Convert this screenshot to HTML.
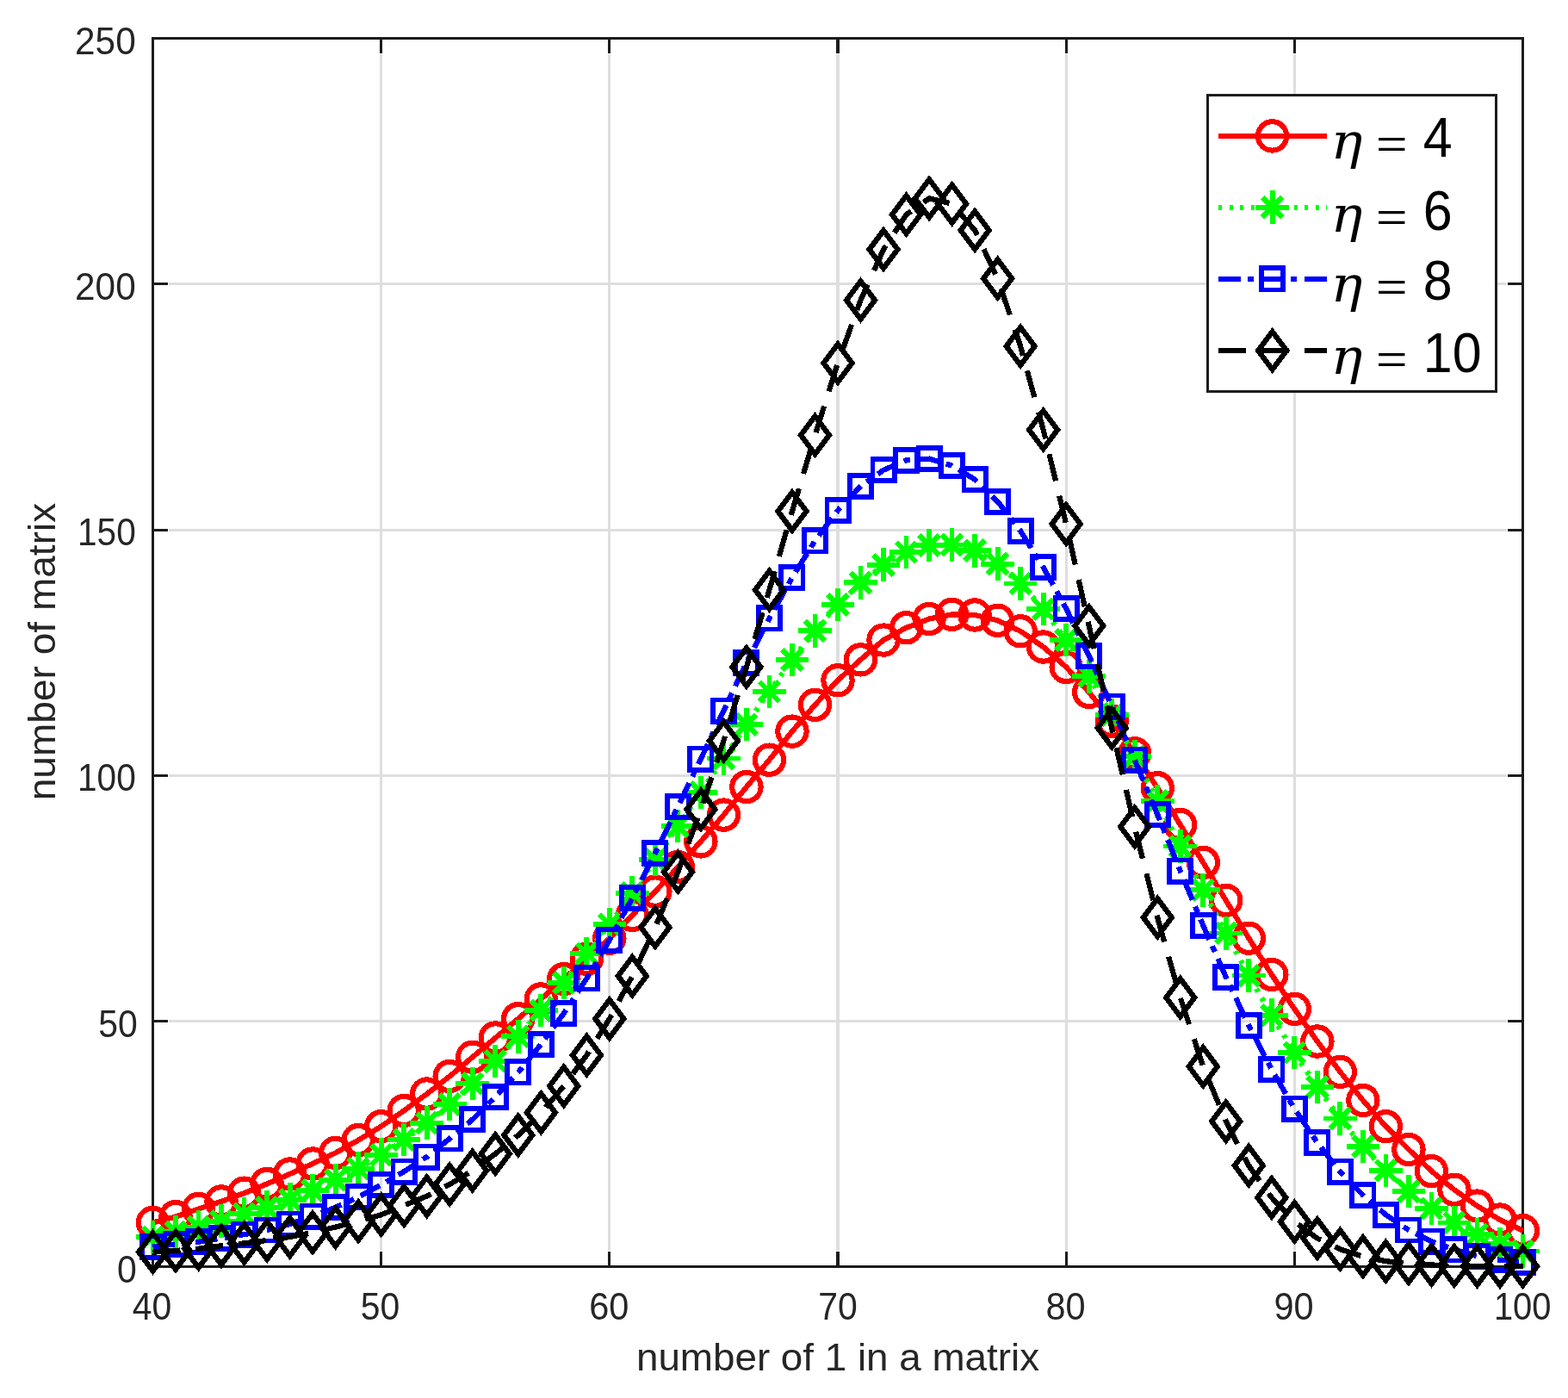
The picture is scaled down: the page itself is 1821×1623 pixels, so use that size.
<!DOCTYPE html>
<html lang="en"><head><meta charset="utf-8"><title>number of matrix vs number of 1 in a matrix</title>
<style>html,body{margin:0;padding:0;background:#fff}body{width:1821px;height:1623px;overflow:hidden}svg{display:block}text{font-family:"Liberation Sans",sans-serif;fill:#262626}.tk{font-size:44.6px}.al{font-size:45.2px}.lg{font-size:64.5px;fill:#000}.eq{font-size:62.5px;fill:#000}.eta{font-family:"DejaVu Serif","Liberation Serif",serif;font-style:italic;font-size:58px;fill:#000}</style></head><body>
<svg width="1821" height="1623" viewBox="0 0 1821 1623">
<rect width="1821" height="1623" fill="#fff"/>
<g fill="#dedede" shape-rendering="crispEdges">
<rect x="441" y="63" width="3" height="1389"/>
<rect x="706" y="63" width="3" height="1389"/>
<rect x="971" y="63" width="4" height="1389"/>
<rect x="1237" y="63" width="3" height="1389"/>
<rect x="1502" y="63" width="3" height="1389"/>
<rect x="196" y="1184" width="1554" height="3"/>
<rect x="196" y="899" width="1554" height="3"/>
<rect x="196" y="614" width="1554" height="3"/>
<rect x="196" y="328" width="1554" height="3"/>
</g>
<g fill="#1c1c1c" shape-rendering="crispEdges">
<rect x="176" y="43" width="1594" height="3"/>
<rect x="176" y="1469" width="1594" height="3"/>
<rect x="176" y="43" width="3" height="1429"/>
<rect x="1767" y="43" width="3" height="1429"/>
<rect x="441" y="46" width="3" height="16"/>
<rect x="441" y="1453" width="3" height="16"/>
<rect x="706" y="46" width="3" height="16"/>
<rect x="706" y="1453" width="3" height="16"/>
<rect x="971" y="46" width="4" height="16"/>
<rect x="971" y="1453" width="4" height="16"/>
<rect x="1237" y="46" width="3" height="16"/>
<rect x="1237" y="1453" width="3" height="16"/>
<rect x="1502" y="46" width="3" height="16"/>
<rect x="1502" y="1453" width="3" height="16"/>
<rect x="179" y="1184" width="16" height="3"/>
<rect x="1751" y="1184" width="16" height="3"/>
<rect x="179" y="899" width="16" height="3"/>
<rect x="1751" y="899" width="16" height="3"/>
<rect x="179" y="614" width="16" height="3"/>
<rect x="1751" y="614" width="16" height="3"/>
<rect x="179" y="328" width="16" height="3"/>
<rect x="1751" y="328" width="16" height="3"/>
</g>
<g class="tk">
<text transform="translate(176.5 1532) scale(0.918 1)" text-anchor="middle">40</text>
<text transform="translate(441.6 1532) scale(0.918 1)" text-anchor="middle">50</text>
<text transform="translate(707.3 1532) scale(0.93 1)" text-anchor="middle">60</text>
<text transform="translate(973 1532) scale(0.918 1)" text-anchor="middle">70</text>
<text transform="translate(1237.6 1532) scale(0.93 1)" text-anchor="middle">80</text>
<text transform="translate(1502.6 1532) scale(0.93 1)" text-anchor="middle">90</text>
<text transform="translate(1768.2 1532) scale(0.895 1)" text-anchor="middle">100</text>
<text transform="translate(158.7 1489) scale(0.918 1)" text-anchor="end">0</text>
<text transform="translate(159.7 1204) scale(0.918 1)" text-anchor="end">50</text>
<text transform="translate(157.7 918) scale(0.91 1)" text-anchor="end">100</text>
<text transform="translate(157.7 633) scale(0.91 1)" text-anchor="end">150</text>
<text transform="translate(157.7 348) scale(0.95 1)" text-anchor="end">200</text>
<text transform="translate(157.7 63) scale(0.95 1)" text-anchor="end">250</text>
</g>
<text class="al" transform="translate(973 1590.8) scale(1.013 1)" text-anchor="middle">number of 1 in a matrix</text>
<text class="al" transform="translate(64 756.5) rotate(-90) scale(1.019 1)" text-anchor="middle">number of matrix</text>
<g stroke="#ff0000" stroke-width="6.2" fill="none" stroke-linejoin="miter" shape-rendering="crispEdges">
<polyline points="177.5,1419.44 204.02,1412.6 230.53,1403.47 257.05,1394.92 283.57,1385.22 310.08,1374.39 336.6,1362.98 363.12,1351 389.63,1338.46 416.15,1323.63 442.67,1307.66 469.18,1289.41 495.7,1270.02 522.22,1249.49 548.73,1227.24 575.25,1205 601.77,1182.76 628.28,1159.95 654.8,1136.56 681.32,1113.18 707.83,1089.23 734.35,1062.42 760.87,1035.05 787.38,1006.53 813.9,976.87 840.42,946.08 866.93,913.57 893.45,882.2 919.97,849.12 946.48,818.32 973,789.81 999.52,765.85 1026.03,743.04 1052.55,728.78 1079.07,718.52 1105.58,713.39 1132.1,713.96 1158.62,720.23 1185.13,732.78 1211.65,751.03 1238.17,774.41 1264.68,803.5 1291.2,837.14 1317.72,874.79 1344.23,914.71 1370.75,957.48 1397.27,1001.4 1423.78,1045.31 1450.3,1089.23 1476.82,1131.43 1503.33,1171.35 1529.85,1208.99 1556.37,1244.35 1582.88,1277.43 1609.4,1307.66 1635.92,1334.46 1662.43,1359.56 1688.95,1381.23 1715.47,1400.05 1741.98,1416.02 1768.5,1428.57"/>
<circle cx="177.5" cy="1419.44" r="16.67" stroke-width="6.1"/>
<circle cx="204.02" cy="1412.6" r="16.67" stroke-width="6.1"/>
<circle cx="230.53" cy="1403.47" r="16.67" stroke-width="6.1"/>
<circle cx="257.05" cy="1394.92" r="16.67" stroke-width="6.1"/>
<circle cx="283.57" cy="1385.22" r="16.67" stroke-width="6.1"/>
<circle cx="310.08" cy="1374.39" r="16.67" stroke-width="6.1"/>
<circle cx="336.6" cy="1362.98" r="16.67" stroke-width="6.1"/>
<circle cx="363.12" cy="1351" r="16.67" stroke-width="6.1"/>
<circle cx="389.63" cy="1338.46" r="16.67" stroke-width="6.1"/>
<circle cx="416.15" cy="1323.63" r="16.67" stroke-width="6.1"/>
<circle cx="442.67" cy="1307.66" r="16.67" stroke-width="6.1"/>
<circle cx="469.18" cy="1289.41" r="16.67" stroke-width="6.1"/>
<circle cx="495.7" cy="1270.02" r="16.67" stroke-width="6.1"/>
<circle cx="522.22" cy="1249.49" r="16.67" stroke-width="6.1"/>
<circle cx="548.73" cy="1227.24" r="16.67" stroke-width="6.1"/>
<circle cx="575.25" cy="1205" r="16.67" stroke-width="6.1"/>
<circle cx="601.77" cy="1182.76" r="16.67" stroke-width="6.1"/>
<circle cx="628.28" cy="1159.95" r="16.67" stroke-width="6.1"/>
<circle cx="654.8" cy="1136.56" r="16.67" stroke-width="6.1"/>
<circle cx="681.32" cy="1113.18" r="16.67" stroke-width="6.1"/>
<circle cx="707.83" cy="1089.23" r="16.67" stroke-width="6.1"/>
<circle cx="734.35" cy="1062.42" r="16.67" stroke-width="6.1"/>
<circle cx="760.87" cy="1035.05" r="16.67" stroke-width="6.1"/>
<circle cx="787.38" cy="1006.53" r="16.67" stroke-width="6.1"/>
<circle cx="813.9" cy="976.87" r="16.67" stroke-width="6.1"/>
<circle cx="840.42" cy="946.08" r="16.67" stroke-width="6.1"/>
<circle cx="866.93" cy="913.57" r="16.67" stroke-width="6.1"/>
<circle cx="893.45" cy="882.2" r="16.67" stroke-width="6.1"/>
<circle cx="919.97" cy="849.12" r="16.67" stroke-width="6.1"/>
<circle cx="946.48" cy="818.32" r="16.67" stroke-width="6.1"/>
<circle cx="973" cy="789.81" r="16.67" stroke-width="6.1"/>
<circle cx="999.52" cy="765.85" r="16.67" stroke-width="6.1"/>
<circle cx="1026.03" cy="743.04" r="16.67" stroke-width="6.1"/>
<circle cx="1052.55" cy="728.78" r="16.67" stroke-width="6.1"/>
<circle cx="1079.07" cy="718.52" r="16.67" stroke-width="6.1"/>
<circle cx="1105.58" cy="713.39" r="16.67" stroke-width="6.1"/>
<circle cx="1132.1" cy="713.96" r="16.67" stroke-width="6.1"/>
<circle cx="1158.62" cy="720.23" r="16.67" stroke-width="6.1"/>
<circle cx="1185.13" cy="732.78" r="16.67" stroke-width="6.1"/>
<circle cx="1211.65" cy="751.03" r="16.67" stroke-width="6.1"/>
<circle cx="1238.17" cy="774.41" r="16.67" stroke-width="6.1"/>
<circle cx="1264.68" cy="803.5" r="16.67" stroke-width="6.1"/>
<circle cx="1291.2" cy="837.14" r="16.67" stroke-width="6.1"/>
<circle cx="1317.72" cy="874.79" r="16.67" stroke-width="6.1"/>
<circle cx="1344.23" cy="914.71" r="16.67" stroke-width="6.1"/>
<circle cx="1370.75" cy="957.48" r="16.67" stroke-width="6.1"/>
<circle cx="1397.27" cy="1001.4" r="16.67" stroke-width="6.1"/>
<circle cx="1423.78" cy="1045.31" r="16.67" stroke-width="6.1"/>
<circle cx="1450.3" cy="1089.23" r="16.67" stroke-width="6.1"/>
<circle cx="1476.82" cy="1131.43" r="16.67" stroke-width="6.1"/>
<circle cx="1503.33" cy="1171.35" r="16.67" stroke-width="6.1"/>
<circle cx="1529.85" cy="1208.99" r="16.67" stroke-width="6.1"/>
<circle cx="1556.37" cy="1244.35" r="16.67" stroke-width="6.1"/>
<circle cx="1582.88" cy="1277.43" r="16.67" stroke-width="6.1"/>
<circle cx="1609.4" cy="1307.66" r="16.67" stroke-width="6.1"/>
<circle cx="1635.92" cy="1334.46" r="16.67" stroke-width="6.1"/>
<circle cx="1662.43" cy="1359.56" r="16.67" stroke-width="6.1"/>
<circle cx="1688.95" cy="1381.23" r="16.67" stroke-width="6.1"/>
<circle cx="1715.47" cy="1400.05" r="16.67" stroke-width="6.1"/>
<circle cx="1741.98" cy="1416.02" r="16.67" stroke-width="6.1"/>
<circle cx="1768.5" cy="1428.57" r="16.67" stroke-width="6.1"/>
</g>
<g stroke="#00ff00" stroke-width="6.2" fill="none" stroke-linejoin="miter" shape-rendering="crispEdges">
<polyline points="177.5,1435.98 204.02,1430.28 230.53,1424.57 257.05,1417.73 283.57,1409.18 310.08,1401.76 336.6,1392.64 363.12,1381.8 389.63,1369.82 416.15,1356.71 442.67,1340.74 469.18,1323.06 495.7,1303.67 522.22,1281.99 548.73,1258.04 575.25,1231.81 601.77,1203.29 628.28,1173.06 654.8,1141.13 681.32,1106.91 707.83,1073.26 734.35,1036.76 760.87,997.98 787.38,959.19 813.9,919.84 840.42,880.49 866.93,841.14 893.45,802.93 919.97,765.85 946.48,732.21 973,701.98 999.52,676.31 1026.03,655.78 1052.55,640.95 1079.07,632.97 1105.58,632.4 1132.1,639.24 1158.62,654.64 1185.13,677.46 1211.65,707.11 1238.17,743.04 1264.68,785.25 1291.2,830.3 1317.72,878.21 1344.23,930.11 1370.75,982.58 1397.27,1033.33 1423.78,1083.52 1450.3,1132.57 1476.82,1178.77 1503.33,1222.11 1529.85,1262.03 1556.37,1298.53 1582.88,1331.04 1609.4,1358.99 1635.92,1382.94 1662.43,1402.9 1688.95,1419.44 1715.47,1433.13 1741.98,1443.97 1768.5,1452.52" stroke-dasharray="4.2 8.3"/>
<path stroke-width="5.8" d="M158.2 1435.98H196.8M177.5 1416.68V1455.28"/><path stroke-width="6.2" d="M165.9 1424.38L189.1 1447.58M165.9 1447.58L189.1 1424.38"/>
<path stroke-width="5.8" d="M184.72 1430.28H223.32M204.02 1410.98V1449.58"/><path stroke-width="6.2" d="M192.42 1418.68L215.62 1441.88M192.42 1441.88L215.62 1418.68"/>
<path stroke-width="5.8" d="M211.23 1424.57H249.83M230.53 1405.27V1443.87"/><path stroke-width="6.2" d="M218.93 1412.97L242.13 1436.17M218.93 1436.17L242.13 1412.97"/>
<path stroke-width="5.8" d="M237.75 1417.73H276.35M257.05 1398.43V1437.03"/><path stroke-width="6.2" d="M245.45 1406.13L268.65 1429.33M245.45 1429.33L268.65 1406.13"/>
<path stroke-width="5.8" d="M264.27 1409.18H302.87M283.57 1389.88V1428.48"/><path stroke-width="6.2" d="M271.97 1397.58L295.17 1420.78M271.97 1420.78L295.17 1397.58"/>
<path stroke-width="5.8" d="M290.78 1401.76H329.38M310.08 1382.46V1421.06"/><path stroke-width="6.2" d="M298.48 1390.16L321.68 1413.36M298.48 1413.36L321.68 1390.16"/>
<path stroke-width="5.8" d="M317.3 1392.64H355.9M336.6 1373.34V1411.94"/><path stroke-width="6.2" d="M325 1381.04L348.2 1404.24M325 1404.24L348.2 1381.04"/>
<path stroke-width="5.8" d="M343.82 1381.8H382.42M363.12 1362.5V1401.1"/><path stroke-width="6.2" d="M351.52 1370.2L374.72 1393.4M351.52 1393.4L374.72 1370.2"/>
<path stroke-width="5.8" d="M370.33 1369.82H408.93M389.63 1350.52V1389.12"/><path stroke-width="6.2" d="M378.03 1358.22L401.23 1381.42M378.03 1381.42L401.23 1358.22"/>
<path stroke-width="5.8" d="M396.85 1356.71H435.45M416.15 1337.41V1376.01"/><path stroke-width="6.2" d="M404.55 1345.11L427.75 1368.31M404.55 1368.31L427.75 1345.11"/>
<path stroke-width="5.8" d="M423.37 1340.74H461.97M442.67 1321.44V1360.04"/><path stroke-width="6.2" d="M431.07 1329.14L454.27 1352.34M431.07 1352.34L454.27 1329.14"/>
<path stroke-width="5.8" d="M449.88 1323.06H488.48M469.18 1303.76V1342.36"/><path stroke-width="6.2" d="M457.58 1311.46L480.78 1334.66M457.58 1334.66L480.78 1311.46"/>
<path stroke-width="5.8" d="M476.4 1303.67H515M495.7 1284.37V1322.97"/><path stroke-width="6.2" d="M484.1 1292.07L507.3 1315.27M484.1 1315.27L507.3 1292.07"/>
<path stroke-width="5.8" d="M502.92 1281.99H541.52M522.22 1262.69V1301.29"/><path stroke-width="6.2" d="M510.62 1270.39L533.82 1293.59M510.62 1293.59L533.82 1270.39"/>
<path stroke-width="5.8" d="M529.43 1258.04H568.03M548.73 1238.74V1277.34"/><path stroke-width="6.2" d="M537.13 1246.44L560.33 1269.64M537.13 1269.64L560.33 1246.44"/>
<path stroke-width="5.8" d="M555.95 1231.81H594.55M575.25 1212.51V1251.11"/><path stroke-width="6.2" d="M563.65 1220.21L586.85 1243.41M563.65 1243.41L586.85 1220.21"/>
<path stroke-width="5.8" d="M582.47 1203.29H621.07M601.77 1183.99V1222.59"/><path stroke-width="6.2" d="M590.17 1191.69L613.37 1214.89M590.17 1214.89L613.37 1191.69"/>
<path stroke-width="5.8" d="M608.98 1173.06H647.58M628.28 1153.76V1192.36"/><path stroke-width="6.2" d="M616.68 1161.46L639.88 1184.66M616.68 1184.66L639.88 1161.46"/>
<path stroke-width="5.8" d="M635.5 1141.13H674.1M654.8 1121.83V1160.43"/><path stroke-width="6.2" d="M643.2 1129.53L666.4 1152.73M643.2 1152.73L666.4 1129.53"/>
<path stroke-width="5.8" d="M662.02 1106.91H700.62M681.32 1087.61V1126.21"/><path stroke-width="6.2" d="M669.72 1095.31L692.92 1118.51M669.72 1118.51L692.92 1095.31"/>
<path stroke-width="5.8" d="M688.53 1073.26H727.13M707.83 1053.96V1092.56"/><path stroke-width="6.2" d="M696.23 1061.66L719.43 1084.86M696.23 1084.86L719.43 1061.66"/>
<path stroke-width="5.8" d="M715.05 1036.76H753.65M734.35 1017.46V1056.06"/><path stroke-width="6.2" d="M722.75 1025.16L745.95 1048.36M722.75 1048.36L745.95 1025.16"/>
<path stroke-width="5.8" d="M741.57 997.98H780.17M760.87 978.68V1017.28"/><path stroke-width="6.2" d="M749.27 986.38L772.47 1009.58M749.27 1009.58L772.47 986.38"/>
<path stroke-width="5.8" d="M768.08 959.19H806.68M787.38 939.89V978.49"/><path stroke-width="6.2" d="M775.78 947.59L798.98 970.79M775.78 970.79L798.98 947.59"/>
<path stroke-width="5.8" d="M794.6 919.84H833.2M813.9 900.54V939.14"/><path stroke-width="6.2" d="M802.3 908.24L825.5 931.44M802.3 931.44L825.5 908.24"/>
<path stroke-width="5.8" d="M821.12 880.49H859.72M840.42 861.19V899.79"/><path stroke-width="6.2" d="M828.82 868.89L852.02 892.09M828.82 892.09L852.02 868.89"/>
<path stroke-width="5.8" d="M847.63 841.14H886.23M866.93 821.84V860.44"/><path stroke-width="6.2" d="M855.33 829.54L878.53 852.74M855.33 852.74L878.53 829.54"/>
<path stroke-width="5.8" d="M874.15 802.93H912.75M893.45 783.63V822.23"/><path stroke-width="6.2" d="M881.85 791.33L905.05 814.53M881.85 814.53L905.05 791.33"/>
<path stroke-width="5.8" d="M900.67 765.85H939.27M919.97 746.55V785.15"/><path stroke-width="6.2" d="M908.37 754.25L931.57 777.45M908.37 777.45L931.57 754.25"/>
<path stroke-width="5.8" d="M927.18 732.21H965.78M946.48 712.91V751.51"/><path stroke-width="6.2" d="M934.88 720.61L958.08 743.81M934.88 743.81L958.08 720.61"/>
<path stroke-width="5.8" d="M953.7 701.98H992.3M973 682.68V721.28"/><path stroke-width="6.2" d="M961.4 690.38L984.6 713.58M961.4 713.58L984.6 690.38"/>
<path stroke-width="5.8" d="M980.22 676.31H1018.82M999.52 657.01V695.61"/><path stroke-width="6.2" d="M987.92 664.71L1011.12 687.91M987.92 687.91L1011.12 664.71"/>
<path stroke-width="5.8" d="M1006.73 655.78H1045.33M1026.03 636.48V675.08"/><path stroke-width="6.2" d="M1014.43 644.18L1037.63 667.38M1014.43 667.38L1037.63 644.18"/>
<path stroke-width="5.8" d="M1033.25 640.95H1071.85M1052.55 621.65V660.25"/><path stroke-width="6.2" d="M1040.95 629.35L1064.15 652.55M1040.95 652.55L1064.15 629.35"/>
<path stroke-width="5.8" d="M1059.77 632.97H1098.37M1079.07 613.67V652.27"/><path stroke-width="6.2" d="M1067.47 621.37L1090.67 644.57M1067.47 644.57L1090.67 621.37"/>
<path stroke-width="5.8" d="M1086.28 632.4H1124.88M1105.58 613.1V651.7"/><path stroke-width="6.2" d="M1093.98 620.8L1117.18 644M1093.98 644L1117.18 620.8"/>
<path stroke-width="5.8" d="M1112.8 639.24H1151.4M1132.1 619.94V658.54"/><path stroke-width="6.2" d="M1120.5 627.64L1143.7 650.84M1120.5 650.84L1143.7 627.64"/>
<path stroke-width="5.8" d="M1139.32 654.64H1177.92M1158.62 635.34V673.94"/><path stroke-width="6.2" d="M1147.02 643.04L1170.22 666.24M1147.02 666.24L1170.22 643.04"/>
<path stroke-width="5.8" d="M1165.83 677.46H1204.43M1185.13 658.16V696.76"/><path stroke-width="6.2" d="M1173.53 665.86L1196.73 689.06M1173.53 689.06L1196.73 665.86"/>
<path stroke-width="5.8" d="M1192.35 707.11H1230.95M1211.65 687.81V726.41"/><path stroke-width="6.2" d="M1200.05 695.51L1223.25 718.71M1200.05 718.71L1223.25 695.51"/>
<path stroke-width="5.8" d="M1218.87 743.04H1257.47M1238.17 723.74V762.34"/><path stroke-width="6.2" d="M1226.57 731.44L1249.77 754.64M1226.57 754.64L1249.77 731.44"/>
<path stroke-width="5.8" d="M1245.38 785.25H1283.98M1264.68 765.95V804.55"/><path stroke-width="6.2" d="M1253.08 773.65L1276.28 796.85M1253.08 796.85L1276.28 773.65"/>
<path stroke-width="5.8" d="M1271.9 830.3H1310.5M1291.2 811V849.6"/><path stroke-width="6.2" d="M1279.6 818.7L1302.8 841.9M1279.6 841.9L1302.8 818.7"/>
<path stroke-width="5.8" d="M1298.42 878.21H1337.02M1317.72 858.91V897.51"/><path stroke-width="6.2" d="M1306.12 866.61L1329.32 889.81M1306.12 889.81L1329.32 866.61"/>
<path stroke-width="5.8" d="M1324.93 930.11H1363.53M1344.23 910.81V949.41"/><path stroke-width="6.2" d="M1332.63 918.51L1355.83 941.71M1332.63 941.71L1355.83 918.51"/>
<path stroke-width="5.8" d="M1351.45 982.58H1390.05M1370.75 963.28V1001.88"/><path stroke-width="6.2" d="M1359.15 970.98L1382.35 994.18M1359.15 994.18L1382.35 970.98"/>
<path stroke-width="5.8" d="M1377.97 1033.33H1416.57M1397.27 1014.03V1052.63"/><path stroke-width="6.2" d="M1385.67 1021.73L1408.87 1044.93M1385.67 1044.93L1408.87 1021.73"/>
<path stroke-width="5.8" d="M1404.48 1083.52H1443.08M1423.78 1064.22V1102.82"/><path stroke-width="6.2" d="M1412.18 1071.92L1435.38 1095.12M1412.18 1095.12L1435.38 1071.92"/>
<path stroke-width="5.8" d="M1431 1132.57H1469.6M1450.3 1113.27V1151.87"/><path stroke-width="6.2" d="M1438.7 1120.97L1461.9 1144.17M1438.7 1144.17L1461.9 1120.97"/>
<path stroke-width="5.8" d="M1457.52 1178.77H1496.12M1476.82 1159.47V1198.07"/><path stroke-width="6.2" d="M1465.22 1167.17L1488.42 1190.37M1465.22 1190.37L1488.42 1167.17"/>
<path stroke-width="5.8" d="M1484.03 1222.11H1522.63M1503.33 1202.81V1241.41"/><path stroke-width="6.2" d="M1491.73 1210.51L1514.93 1233.71M1491.73 1233.71L1514.93 1210.51"/>
<path stroke-width="5.8" d="M1510.55 1262.03H1549.15M1529.85 1242.73V1281.33"/><path stroke-width="6.2" d="M1518.25 1250.43L1541.45 1273.63M1518.25 1273.63L1541.45 1250.43"/>
<path stroke-width="5.8" d="M1537.07 1298.53H1575.67M1556.37 1279.23V1317.83"/><path stroke-width="6.2" d="M1544.77 1286.93L1567.97 1310.13M1544.77 1310.13L1567.97 1286.93"/>
<path stroke-width="5.8" d="M1563.58 1331.04H1602.18M1582.88 1311.74V1350.34"/><path stroke-width="6.2" d="M1571.28 1319.44L1594.48 1342.64M1571.28 1342.64L1594.48 1319.44"/>
<path stroke-width="5.8" d="M1590.1 1358.99H1628.7M1609.4 1339.69V1378.29"/><path stroke-width="6.2" d="M1597.8 1347.39L1621 1370.59M1597.8 1370.59L1621 1347.39"/>
<path stroke-width="5.8" d="M1616.62 1382.94H1655.22M1635.92 1363.64V1402.24"/><path stroke-width="6.2" d="M1624.32 1371.34L1647.52 1394.54M1624.32 1394.54L1647.52 1371.34"/>
<path stroke-width="5.8" d="M1643.13 1402.9H1681.73M1662.43 1383.6V1422.2"/><path stroke-width="6.2" d="M1650.83 1391.3L1674.03 1414.5M1650.83 1414.5L1674.03 1391.3"/>
<path stroke-width="5.8" d="M1669.65 1419.44H1708.25M1688.95 1400.14V1438.74"/><path stroke-width="6.2" d="M1677.35 1407.84L1700.55 1431.04M1677.35 1431.04L1700.55 1407.84"/>
<path stroke-width="5.8" d="M1696.17 1433.13H1734.77M1715.47 1413.83V1452.43"/><path stroke-width="6.2" d="M1703.87 1421.53L1727.07 1444.73M1703.87 1444.73L1727.07 1421.53"/>
<path stroke-width="5.8" d="M1722.68 1443.97H1761.28M1741.98 1424.67V1463.27"/><path stroke-width="6.2" d="M1730.38 1432.37L1753.58 1455.57M1730.38 1455.57L1753.58 1432.37"/>
<path stroke-width="5.8" d="M1749.2 1452.52H1787.8M1768.5 1433.22V1471.82"/><path stroke-width="6.2" d="M1756.9 1440.92L1780.1 1464.12M1756.9 1464.12L1780.1 1440.92"/>
</g>
<g stroke="#0000ff" stroke-width="6.2" fill="none" stroke-linejoin="miter" shape-rendering="crispEdges">
<polyline points="177.5,1447.39 204.02,1444.54 230.53,1441.68 257.05,1437.69 283.57,1433.13 310.08,1428 336.6,1421.15 363.12,1412.03 389.63,1401.76 416.15,1389.78 442.67,1375.53 469.18,1360.13 495.7,1343.02 522.22,1321.92 548.73,1299.67 575.25,1273.44 601.77,1244.92 628.28,1212.42 654.8,1176.49 681.32,1135.99 707.83,1091.51 734.35,1042.46 760.87,990.56 787.38,936.38 813.9,881.06 840.42,825.17 866.93,769.28 893.45,717.95 919.97,670.61 946.48,627.84 973,592.48 999.52,564.53 1026.03,545.71 1052.55,534.3 1079.07,532.59 1105.58,540.58 1132.1,556.55 1158.62,582.21 1185.13,616.43 1211.65,658.63 1238.17,706.54 1264.68,761.29 1291.2,820.04 1317.72,882.2 1344.23,945.51 1370.75,1011.09 1397.27,1074.4 1423.78,1134.28 1450.3,1190.74 1476.82,1241.5 1503.33,1287.13 1529.85,1326.48 1556.37,1360.13 1582.88,1387.5 1609.4,1410.32 1635.92,1428 1662.43,1441.11 1688.95,1450.81 1715.47,1458.22 1741.98,1462.79 1768.5,1465.07" stroke-dasharray="25.5 8.3 7.5 8.7"/>
<rect x="164.9" y="1434.79" width="25.2" height="25.2" stroke-width="5.8"/>
<rect x="191.42" y="1431.94" width="25.2" height="25.2" stroke-width="5.8"/>
<rect x="217.93" y="1429.08" width="25.2" height="25.2" stroke-width="5.8"/>
<rect x="244.45" y="1425.09" width="25.2" height="25.2" stroke-width="5.8"/>
<rect x="270.97" y="1420.53" width="25.2" height="25.2" stroke-width="5.8"/>
<rect x="297.48" y="1415.4" width="25.2" height="25.2" stroke-width="5.8"/>
<rect x="324" y="1408.55" width="25.2" height="25.2" stroke-width="5.8"/>
<rect x="350.52" y="1399.43" width="25.2" height="25.2" stroke-width="5.8"/>
<rect x="377.03" y="1389.16" width="25.2" height="25.2" stroke-width="5.8"/>
<rect x="403.55" y="1377.18" width="25.2" height="25.2" stroke-width="5.8"/>
<rect x="430.07" y="1362.93" width="25.2" height="25.2" stroke-width="5.8"/>
<rect x="456.58" y="1347.53" width="25.2" height="25.2" stroke-width="5.8"/>
<rect x="483.1" y="1330.42" width="25.2" height="25.2" stroke-width="5.8"/>
<rect x="509.62" y="1309.32" width="25.2" height="25.2" stroke-width="5.8"/>
<rect x="536.13" y="1287.07" width="25.2" height="25.2" stroke-width="5.8"/>
<rect x="562.65" y="1260.84" width="25.2" height="25.2" stroke-width="5.8"/>
<rect x="589.17" y="1232.32" width="25.2" height="25.2" stroke-width="5.8"/>
<rect x="615.68" y="1199.82" width="25.2" height="25.2" stroke-width="5.8"/>
<rect x="642.2" y="1163.89" width="25.2" height="25.2" stroke-width="5.8"/>
<rect x="668.72" y="1123.39" width="25.2" height="25.2" stroke-width="5.8"/>
<rect x="695.23" y="1078.91" width="25.2" height="25.2" stroke-width="5.8"/>
<rect x="721.75" y="1029.86" width="25.2" height="25.2" stroke-width="5.8"/>
<rect x="748.27" y="977.96" width="25.2" height="25.2" stroke-width="5.8"/>
<rect x="774.78" y="923.78" width="25.2" height="25.2" stroke-width="5.8"/>
<rect x="801.3" y="868.46" width="25.2" height="25.2" stroke-width="5.8"/>
<rect x="827.82" y="812.57" width="25.2" height="25.2" stroke-width="5.8"/>
<rect x="854.33" y="756.68" width="25.2" height="25.2" stroke-width="5.8"/>
<rect x="880.85" y="705.35" width="25.2" height="25.2" stroke-width="5.8"/>
<rect x="907.37" y="658.01" width="25.2" height="25.2" stroke-width="5.8"/>
<rect x="933.88" y="615.24" width="25.2" height="25.2" stroke-width="5.8"/>
<rect x="960.4" y="579.88" width="25.2" height="25.2" stroke-width="5.8"/>
<rect x="986.92" y="551.93" width="25.2" height="25.2" stroke-width="5.8"/>
<rect x="1013.43" y="533.11" width="25.2" height="25.2" stroke-width="5.8"/>
<rect x="1039.95" y="521.7" width="25.2" height="25.2" stroke-width="5.8"/>
<rect x="1066.47" y="519.99" width="25.2" height="25.2" stroke-width="5.8"/>
<rect x="1092.98" y="527.98" width="25.2" height="25.2" stroke-width="5.8"/>
<rect x="1119.5" y="543.95" width="25.2" height="25.2" stroke-width="5.8"/>
<rect x="1146.02" y="569.61" width="25.2" height="25.2" stroke-width="5.8"/>
<rect x="1172.53" y="603.83" width="25.2" height="25.2" stroke-width="5.8"/>
<rect x="1199.05" y="646.03" width="25.2" height="25.2" stroke-width="5.8"/>
<rect x="1225.57" y="693.94" width="25.2" height="25.2" stroke-width="5.8"/>
<rect x="1252.08" y="748.69" width="25.2" height="25.2" stroke-width="5.8"/>
<rect x="1278.6" y="807.44" width="25.2" height="25.2" stroke-width="5.8"/>
<rect x="1305.12" y="869.6" width="25.2" height="25.2" stroke-width="5.8"/>
<rect x="1331.63" y="932.91" width="25.2" height="25.2" stroke-width="5.8"/>
<rect x="1358.15" y="998.49" width="25.2" height="25.2" stroke-width="5.8"/>
<rect x="1384.67" y="1061.8" width="25.2" height="25.2" stroke-width="5.8"/>
<rect x="1411.18" y="1121.68" width="25.2" height="25.2" stroke-width="5.8"/>
<rect x="1437.7" y="1178.14" width="25.2" height="25.2" stroke-width="5.8"/>
<rect x="1464.22" y="1228.9" width="25.2" height="25.2" stroke-width="5.8"/>
<rect x="1490.73" y="1274.53" width="25.2" height="25.2" stroke-width="5.8"/>
<rect x="1517.25" y="1313.88" width="25.2" height="25.2" stroke-width="5.8"/>
<rect x="1543.77" y="1347.53" width="25.2" height="25.2" stroke-width="5.8"/>
<rect x="1570.28" y="1374.9" width="25.2" height="25.2" stroke-width="5.8"/>
<rect x="1596.8" y="1397.72" width="25.2" height="25.2" stroke-width="5.8"/>
<rect x="1623.32" y="1415.4" width="25.2" height="25.2" stroke-width="5.8"/>
<rect x="1649.83" y="1428.51" width="25.2" height="25.2" stroke-width="5.8"/>
<rect x="1676.35" y="1438.21" width="25.2" height="25.2" stroke-width="5.8"/>
<rect x="1702.87" y="1445.62" width="25.2" height="25.2" stroke-width="5.8"/>
<rect x="1729.38" y="1450.19" width="25.2" height="25.2" stroke-width="5.8"/>
<rect x="1755.9" y="1452.47" width="25.2" height="25.2" stroke-width="5.8"/>
</g>
<g stroke="#000000" stroke-width="6.2" fill="none" stroke-linejoin="miter" shape-rendering="crispEdges">
<polyline points="177.5,1453.66 204.02,1451.95 230.53,1449.67 257.05,1446.25 283.57,1443.39 310.08,1439.97 336.6,1435.98 363.12,1430.85 389.63,1424.57 416.15,1417.73 442.67,1410.32 469.18,1399.48 495.7,1388.64 522.22,1374.96 548.73,1358.99 575.25,1339.6 601.77,1317.92 628.28,1291.69 654.8,1260.89 681.32,1224.96 707.83,1182.76 734.35,1133.14 760.87,1076.68 787.38,1012.23 813.9,939.8 840.42,859.96 866.93,774.41 893.45,684.87 919.97,593.62 946.48,505.22 973,421.38 999.52,348.38 1026.03,289.64 1052.55,249.14 1079.07,230.32 1105.58,236.6 1132.1,267.4 1158.62,323.29 1185.13,401.99 1211.65,498.95 1238.17,608.45 1264.68,726.5 1291.2,845.13 1317.72,959.76 1344.23,1065.27 1370.75,1158.23 1397.27,1238.08 1423.78,1301.96 1450.3,1353.28 1476.82,1390.36 1503.33,1418.3 1529.85,1437.69 1556.37,1450.24 1582.88,1458.79 1609.4,1464.21 1635.92,1466.78 1662.43,1468.49 1688.95,1469.34 1715.47,1469.91 1741.98,1470.2 1768.5,1470.2" stroke-dasharray="32 18"/>
<path stroke-width="6.2" d="M177.5 1431.66L194 1453.66L177.5 1475.66L161 1453.66Z"/>
<path stroke-width="6.2" d="M204.02 1429.95L220.52 1451.95L204.02 1473.95L187.52 1451.95Z"/>
<path stroke-width="6.2" d="M230.53 1427.67L247.03 1449.67L230.53 1471.67L214.03 1449.67Z"/>
<path stroke-width="6.2" d="M257.05 1424.25L273.55 1446.25L257.05 1468.25L240.55 1446.25Z"/>
<path stroke-width="6.2" d="M283.57 1421.39L300.07 1443.39L283.57 1465.39L267.07 1443.39Z"/>
<path stroke-width="6.2" d="M310.08 1417.97L326.58 1439.97L310.08 1461.97L293.58 1439.97Z"/>
<path stroke-width="6.2" d="M336.6 1413.98L353.1 1435.98L336.6 1457.98L320.1 1435.98Z"/>
<path stroke-width="6.2" d="M363.12 1408.85L379.62 1430.85L363.12 1452.85L346.62 1430.85Z"/>
<path stroke-width="6.2" d="M389.63 1402.57L406.13 1424.57L389.63 1446.57L373.13 1424.57Z"/>
<path stroke-width="6.2" d="M416.15 1395.73L432.65 1417.73L416.15 1439.73L399.65 1417.73Z"/>
<path stroke-width="6.2" d="M442.67 1388.32L459.17 1410.32L442.67 1432.32L426.17 1410.32Z"/>
<path stroke-width="6.2" d="M469.18 1377.48L485.68 1399.48L469.18 1421.48L452.68 1399.48Z"/>
<path stroke-width="6.2" d="M495.7 1366.64L512.2 1388.64L495.7 1410.64L479.2 1388.64Z"/>
<path stroke-width="6.2" d="M522.22 1352.96L538.72 1374.96L522.22 1396.96L505.72 1374.96Z"/>
<path stroke-width="6.2" d="M548.73 1336.99L565.23 1358.99L548.73 1380.99L532.23 1358.99Z"/>
<path stroke-width="6.2" d="M575.25 1317.6L591.75 1339.6L575.25 1361.6L558.75 1339.6Z"/>
<path stroke-width="6.2" d="M601.77 1295.92L618.27 1317.92L601.77 1339.92L585.27 1317.92Z"/>
<path stroke-width="6.2" d="M628.28 1269.69L644.78 1291.69L628.28 1313.69L611.78 1291.69Z"/>
<path stroke-width="6.2" d="M654.8 1238.89L671.3 1260.89L654.8 1282.89L638.3 1260.89Z"/>
<path stroke-width="6.2" d="M681.32 1202.96L697.82 1224.96L681.32 1246.96L664.82 1224.96Z"/>
<path stroke-width="6.2" d="M707.83 1160.76L724.33 1182.76L707.83 1204.76L691.33 1182.76Z"/>
<path stroke-width="6.2" d="M734.35 1111.14L750.85 1133.14L734.35 1155.14L717.85 1133.14Z"/>
<path stroke-width="6.2" d="M760.87 1054.68L777.37 1076.68L760.87 1098.68L744.37 1076.68Z"/>
<path stroke-width="6.2" d="M787.38 990.23L803.88 1012.23L787.38 1034.23L770.88 1012.23Z"/>
<path stroke-width="6.2" d="M813.9 917.8L830.4 939.8L813.9 961.8L797.4 939.8Z"/>
<path stroke-width="6.2" d="M840.42 837.96L856.92 859.96L840.42 881.96L823.92 859.96Z"/>
<path stroke-width="6.2" d="M866.93 752.41L883.43 774.41L866.93 796.41L850.43 774.41Z"/>
<path stroke-width="6.2" d="M893.45 662.87L909.95 684.87L893.45 706.87L876.95 684.87Z"/>
<path stroke-width="6.2" d="M919.97 571.62L936.47 593.62L919.97 615.62L903.47 593.62Z"/>
<path stroke-width="6.2" d="M946.48 483.22L962.98 505.22L946.48 527.22L929.98 505.22Z"/>
<path stroke-width="6.2" d="M973 399.38L989.5 421.38L973 443.38L956.5 421.38Z"/>
<path stroke-width="6.2" d="M999.52 326.38L1016.02 348.38L999.52 370.38L983.02 348.38Z"/>
<path stroke-width="6.2" d="M1026.03 267.64L1042.53 289.64L1026.03 311.64L1009.53 289.64Z"/>
<path stroke-width="6.2" d="M1052.55 227.14L1069.05 249.14L1052.55 271.14L1036.05 249.14Z"/>
<path stroke-width="6.2" d="M1079.07 208.32L1095.57 230.32L1079.07 252.32L1062.57 230.32Z"/>
<path stroke-width="6.2" d="M1105.58 214.6L1122.08 236.6L1105.58 258.6L1089.08 236.6Z"/>
<path stroke-width="6.2" d="M1132.1 245.4L1148.6 267.4L1132.1 289.4L1115.6 267.4Z"/>
<path stroke-width="6.2" d="M1158.62 301.29L1175.12 323.29L1158.62 345.29L1142.12 323.29Z"/>
<path stroke-width="6.2" d="M1185.13 379.99L1201.63 401.99L1185.13 423.99L1168.63 401.99Z"/>
<path stroke-width="6.2" d="M1211.65 476.95L1228.15 498.95L1211.65 520.95L1195.15 498.95Z"/>
<path stroke-width="6.2" d="M1238.17 586.45L1254.67 608.45L1238.17 630.45L1221.67 608.45Z"/>
<path stroke-width="6.2" d="M1264.68 704.5L1281.18 726.5L1264.68 748.5L1248.18 726.5Z"/>
<path stroke-width="6.2" d="M1291.2 823.13L1307.7 845.13L1291.2 867.13L1274.7 845.13Z"/>
<path stroke-width="6.2" d="M1317.72 937.76L1334.22 959.76L1317.72 981.76L1301.22 959.76Z"/>
<path stroke-width="6.2" d="M1344.23 1043.27L1360.73 1065.27L1344.23 1087.27L1327.73 1065.27Z"/>
<path stroke-width="6.2" d="M1370.75 1136.23L1387.25 1158.23L1370.75 1180.23L1354.25 1158.23Z"/>
<path stroke-width="6.2" d="M1397.27 1216.08L1413.77 1238.08L1397.27 1260.08L1380.77 1238.08Z"/>
<path stroke-width="6.2" d="M1423.78 1279.96L1440.28 1301.96L1423.78 1323.96L1407.28 1301.96Z"/>
<path stroke-width="6.2" d="M1450.3 1331.28L1466.8 1353.28L1450.3 1375.28L1433.8 1353.28Z"/>
<path stroke-width="6.2" d="M1476.82 1368.36L1493.32 1390.36L1476.82 1412.36L1460.32 1390.36Z"/>
<path stroke-width="6.2" d="M1503.33 1396.3L1519.83 1418.3L1503.33 1440.3L1486.83 1418.3Z"/>
<path stroke-width="6.2" d="M1529.85 1415.69L1546.35 1437.69L1529.85 1459.69L1513.35 1437.69Z"/>
<path stroke-width="6.2" d="M1556.37 1428.24L1572.87 1450.24L1556.37 1472.24L1539.87 1450.24Z"/>
<path stroke-width="6.2" d="M1582.88 1436.79L1599.38 1458.79L1582.88 1480.79L1566.38 1458.79Z"/>
<path stroke-width="6.2" d="M1609.4 1442.21L1625.9 1464.21L1609.4 1486.21L1592.9 1464.21Z"/>
<path stroke-width="6.2" d="M1635.92 1444.78L1652.42 1466.78L1635.92 1488.78L1619.42 1466.78Z"/>
<path stroke-width="6.2" d="M1662.43 1446.49L1678.93 1468.49L1662.43 1490.49L1645.93 1468.49Z"/>
<path stroke-width="6.2" d="M1688.95 1447.34L1705.45 1469.34L1688.95 1491.34L1672.45 1469.34Z"/>
<path stroke-width="6.2" d="M1715.47 1447.91L1731.97 1469.91L1715.47 1491.91L1698.97 1469.91Z"/>
<path stroke-width="6.2" d="M1741.98 1448.2L1758.48 1470.2L1741.98 1492.2L1725.48 1470.2Z"/>
<path stroke-width="6.2" d="M1768.5 1448.2L1785 1470.2L1768.5 1492.2L1752 1470.2Z"/>
</g>
<rect x="1401" y="109" width="338" height="347" fill="#1c1c1c" shape-rendering="crispEdges"/>
<rect x="1404" y="112" width="332" height="341" fill="#fff" shape-rendering="crispEdges"/>
<g stroke="#ff0000" stroke-width="6.2" fill="none" shape-rendering="crispEdges">
<line x1="1415" y1="157.9" x2="1541" y2="157.9" stroke-width="5.8"/>
<circle cx="1477.6" cy="157.9" r="16.67" stroke-width="6.1"/>
</g>
<text class="eta" transform="translate(1545.6 183.8) scale(1.06 1)">η</text>
<text class="eq" transform="translate(1597.9 182.6) scale(1 0.73)">=</text>
<text class="lg" transform="translate(1652.8 181.8) scale(0.945 1)">4</text>
<g stroke="#00ff00" stroke-width="6.2" fill="none" shape-rendering="crispEdges">
<line x1="1415" y1="240.7" x2="1541" y2="240.7" stroke-dasharray="4.2 8.3" stroke-width="5.8"/>
<path stroke-width="5.8" d="M1458.3 240.7H1496.9M1477.6 221.4V260"/><path stroke-width="6.2" d="M1466 229.1L1489.2 252.3M1466 252.3L1489.2 229.1"/>
</g>
<text class="eta" transform="translate(1545.6 268.8) scale(1.06 1)">η</text>
<text class="eq" transform="translate(1597.9 267.6) scale(1 0.73)">=</text>
<text class="lg" transform="translate(1652.8 266.8) scale(0.945 1)">6</text>
<g stroke="#0000ff" stroke-width="6.2" fill="none" shape-rendering="crispEdges">
<line x1="1415" y1="323.8" x2="1541" y2="323.8" stroke-dasharray="25.5 8.3 7.5 8.7" stroke-width="5.8"/>
<rect x="1465" y="311.2" width="25.2" height="25.2" stroke-width="5.8"/>
</g>
<text class="eta" transform="translate(1545.6 349.7) scale(1.06 1)">η</text>
<text class="eq" transform="translate(1597.9 348.5) scale(1 0.73)">=</text>
<text class="lg" transform="translate(1652.8 347.7) scale(0.945 1)">8</text>
<g stroke="#000000" stroke-width="6.2" fill="none" shape-rendering="crispEdges">
<line x1="1415" y1="407" x2="1541" y2="407" stroke-dasharray="32 18" stroke-width="5.8"/>
<path stroke-width="6.2" d="M1477.6 385L1494.1 407L1477.6 429L1461.1 407Z"/>
</g>
<text class="eta" transform="translate(1545.6 433.8) scale(1.06 1)">η</text>
<text class="eq" transform="translate(1597.9 432.6) scale(1 0.73)">=</text>
<text class="lg" transform="translate(1652.8 431.8) scale(0.945 1)">10</text>
</svg></body></html>
